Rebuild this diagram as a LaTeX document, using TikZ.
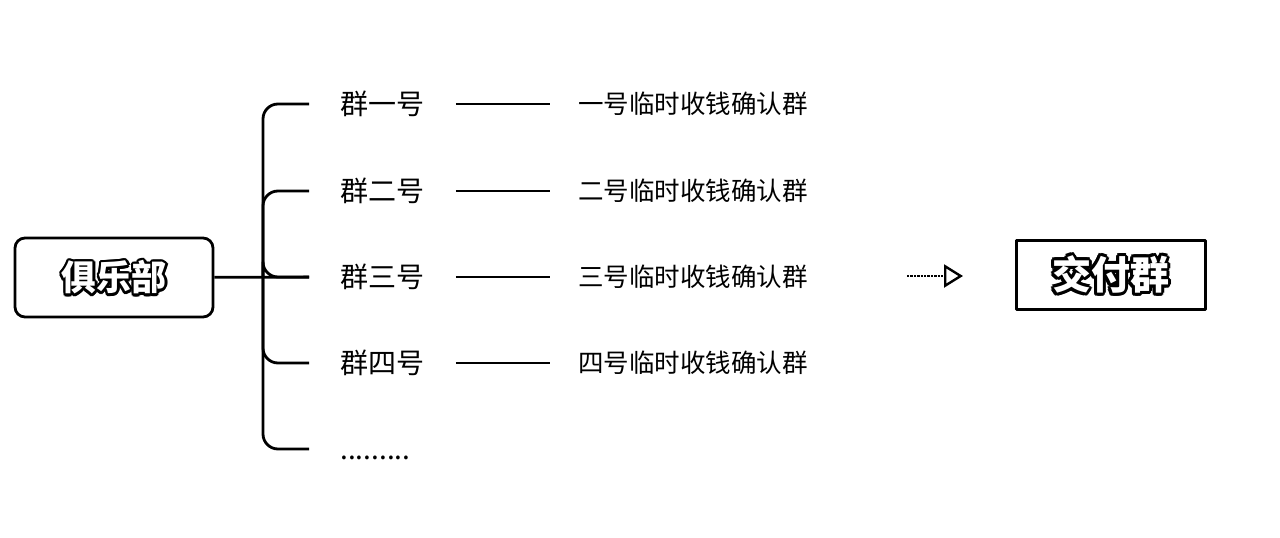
\documentclass[tikz,border=0pt]{standalone}
\usepackage{fontspec}
\newfontfamily\cjk{Noto Sans CJK SC}
\usetikzlibrary{arrows.meta}

% white text with a black outline, made of shifted copies
\newcommand{\halo}[2]{%
  \leavevmode
  \foreach \ang in {0,30,...,330}{%
    \pgfmathsetlengthmacro\hx{#1*cos(\ang)}%
    \pgfmathsetlengthmacro\hy{#1*sin(\ang)}%
    \rlap{\kern\hx\raisebox{\hy}{#2}}}%
  {\color{white}#2}}

\begin{document}
\begin{tikzpicture}[x=1pt,y=-1pt,line width=2.8pt,line join=round,
    grp/.style={anchor=west,inner xsep=30pt,inner ysep=0pt,font=\cjk\fontsize{28}{30}\selectfont},
    tmp/.style={anchor=west,inner xsep=27pt,inner ysep=0pt,font=\cjk\fontsize{25.5}{27}\selectfont}]
  \useasboundingbox (0,0) rectangle (1280,538);

  \node[draw,rounded corners=10pt,minimum width=198pt,minimum height=79pt,
    font=\cjk\bfseries\fontsize{35}{38}\selectfont] (club) at (114,277.5) {\halo{2.5pt}{俱乐部}};
  \coordinate (spine) at (263,277);

  \foreach \i/\y/\lab in {1/104/一,2/191/二,3/277/三,4/363/四} {
      \node[grp] (g\i) at (309,\y) {群\lab 号};
      \node[tmp] (r\i) at (550,\y) {\lab 号临时收钱确认群};
      \draw (g\i) -- (r\i);
      \draw[rounded corners=15pt] (g\i.west) -| (spine);
    }
  \node[grp] (g5) at (309,449) {\vphantom{群}.........};
  \draw[rounded corners=15pt] (g5.west) -| (spine);
  \draw (club) -- (g3);

  % arrow to the delivery group
  \coordinate (arrS) at (907,276);
  \coordinate (arrE) at (963,276);
  \draw[densely dotted,line width=2.4pt,-{Triangle[open,length=19pt,width=23pt,line width=2.4pt]}] (arrS) -- (arrE);

  \node[draw,line width=3pt,minimum width=189pt,minimum height=69pt,
    font=\cjk\bfseries\fontsize{39}{42}\selectfont] (deliver) at (1110.5,274.5) {\halo{3pt}{交付群}};
\end{tikzpicture}
\end{document}
